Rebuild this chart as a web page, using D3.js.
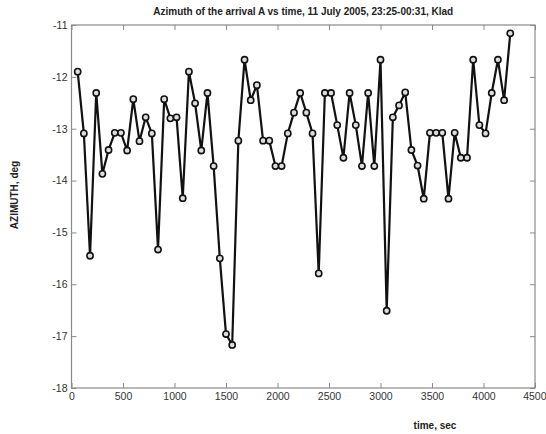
<!DOCTYPE html>
<html>
<head>
<meta charset="utf-8">
<script src="https://cdn.jsdelivr.net/npm/d3@7"></script>
<style>
  html, body { margin: 0; padding: 0; background: #fff; }
  svg { display: block; font-family: "Liberation Sans", Arial, sans-serif; }
</style>
</head>
<body>
<svg id="chart" width="546" height="434"></svg>
<script>
// Sample times, seconds (one reading per minute)
const timeSec = [
  60, 120, 180, 240, 300, 360, 420, 480, 540, 600,
  660, 720, 780, 840, 900, 960, 1020, 1080, 1140, 1200,
  1260, 1320, 1380, 1440, 1500, 1560, 1620, 1680, 1740, 1800,
  1860, 1920, 1980, 2040, 2100, 2160, 2220, 2280, 2340, 2400,
  2460, 2520, 2580, 2640, 2700, 2760, 2820, 2880, 2940, 3000,
  3060, 3120, 3180, 3240, 3300, 3360, 3420, 3480, 3540, 3600,
  3660, 3720, 3780, 3840, 3900, 3960, 4020, 4080, 4140, 4200,
  4260
];

// Azimuth of arrival A, degrees
const azimuthDeg = [
  -11.90, -13.09, -15.45, -12.31, -13.87, -13.41, -13.08, -13.08, -13.42, -12.43,
  -13.24, -12.78, -13.09, -15.33, -12.43, -12.80, -12.78, -14.34, -11.90, -12.51,
  -13.42, -12.31, -13.72, -15.50, -16.96, -17.17, -13.23, -11.67, -12.45, -12.16,
  -13.23, -13.23, -13.72, -13.72, -13.09, -12.69, -12.31, -12.69, -13.09, -15.79,
  -12.31, -12.31, -12.93, -13.56, -12.31, -12.93, -13.72, -12.31, -13.72, -11.67,
  -16.51, -12.78, -12.55, -12.30, -13.41, -13.71, -14.35, -13.08, -13.08, -13.08,
  -14.35, -13.08, -13.56, -13.56, -11.67, -12.93, -13.09, -12.31, -11.67, -12.45,
  -11.16
];

const xTicks = [0, 500, 1000, 1500, 2000, 2500, 3000, 3500, 4000, 4500];
const yTicks = [-18, -17, -16, -15, -14, -13, -12, -11];

const titleText = "Azimuth of the arrival A vs time, 11 July 2005, 23:25-00:31, Klad";
const xLabelText = "time, sec";
const yLabelText = "AZIMUTH, deg";

const svg = d3.select("#chart");
const plot = { left: 71.5, right: 535, top: 25, bottom: 388 };

const x = d3.scaleLinear().domain([0, 4500]).range([plot.left, plot.right]);
const y = d3.scaleLinear().domain([-18, -11]).range([plot.bottom, plot.top]);

const axisColor = "#8a8a8a";
const labelColor = "#333";
const tickLen = 5;
const plainNumber = d => String(d);   // keeps the ASCII hyphen as minus sign

// Box around the axes
svg.append("rect")
  .attr("x", plot.left).attr("y", plot.top)
  .attr("width", plot.right - plot.left).attr("height", plot.bottom - plot.top)
  .attr("fill", "none").attr("stroke", axisColor).attr("stroke-width", 1.2);

function styleAxis(g) {
  g.select(".domain").remove();
  g.selectAll(".tick line").attr("stroke", axisColor).attr("stroke-width", 1);
  g.selectAll(".tick text").attr("fill", labelColor)
    .style("font-size", "10.5px").style("font-family", "Liberation Sans, Arial, sans-serif");
}

// Bottom axis with ticks pointing into the plot
const xAxisG = svg.append("g").attr("transform", `translate(0,${plot.bottom})`)
  .call(d3.axisBottom(x).tickValues(xTicks).tickFormat(plainNumber)
    .tickSizeInner(-tickLen).tickSizeOuter(0).tickPadding(5))
  .call(styleAxis);
// keep the last label inside the page edge
xAxisG.selectAll(".tick text").filter(d => d === 4500)
  .attr("text-anchor", "end").attr("dx", "11px");

// Top axis: ticks only
svg.append("g").attr("transform", `translate(0,${plot.top})`)
  .call(d3.axisTop(x).tickValues(xTicks).tickFormat("")
    .tickSizeInner(-tickLen).tickSizeOuter(0))
  .call(styleAxis);
// Left axis
svg.append("g").attr("transform", `translate(${plot.left},0)`)
  .call(d3.axisLeft(y).tickValues(yTicks).tickFormat(plainNumber)
    .tickSizeInner(-tickLen).tickSizeOuter(0).tickPadding(4))
  .call(styleAxis);
// Right axis: ticks only
svg.append("g").attr("transform", `translate(${plot.right},0)`)
  .call(d3.axisRight(y).tickValues(yTicks).tickFormat("")
    .tickSizeInner(-tickLen).tickSizeOuter(0))
  .call(styleAxis);

// Data line
const pts = timeSec.map((t, i) => [t, azimuthDeg[i]]);
svg.append("path")
  .datum(pts)
  .attr("fill", "none")
  .attr("stroke", "#111")
  .attr("stroke-width", 2.2)
  .attr("stroke-linejoin", "round")
  .attr("d", d3.line().x(d => x(d[0])).y(d => y(d[1])));

// Circle markers
svg.append("g").selectAll("circle")
  .data(pts)
  .join("circle")
  .attr("cx", d => x(d[0]))
  .attr("cy", d => y(d[1]))
  .attr("r", 3.1)
  .attr("fill", "#ddd")
  .attr("stroke", "#111")
  .attr("stroke-width", 1.6);

// Title and axis labels
svg.append("text")
  .attr("x", (plot.left + plot.right) / 2).attr("y", 15)
  .attr("text-anchor", "middle")
  .attr("fill", "#222")
  .style("font-size", "10px").style("font-weight", "bold")
  .text(titleText);

svg.append("text")
  .attr("x", 435).attr("y", 429)
  .attr("text-anchor", "middle")
  .attr("fill", "#222")
  .style("font-size", "10px").style("font-weight", "bold")
  .text(xLabelText);

svg.append("text")
  .attr("transform", `translate(18,195) rotate(-90)`)
  .attr("text-anchor", "middle")
  .attr("fill", "#222")
  .style("font-size", "10px").style("font-weight", "bold")
  .text(yLabelText);
</script>
</body>
</html>
